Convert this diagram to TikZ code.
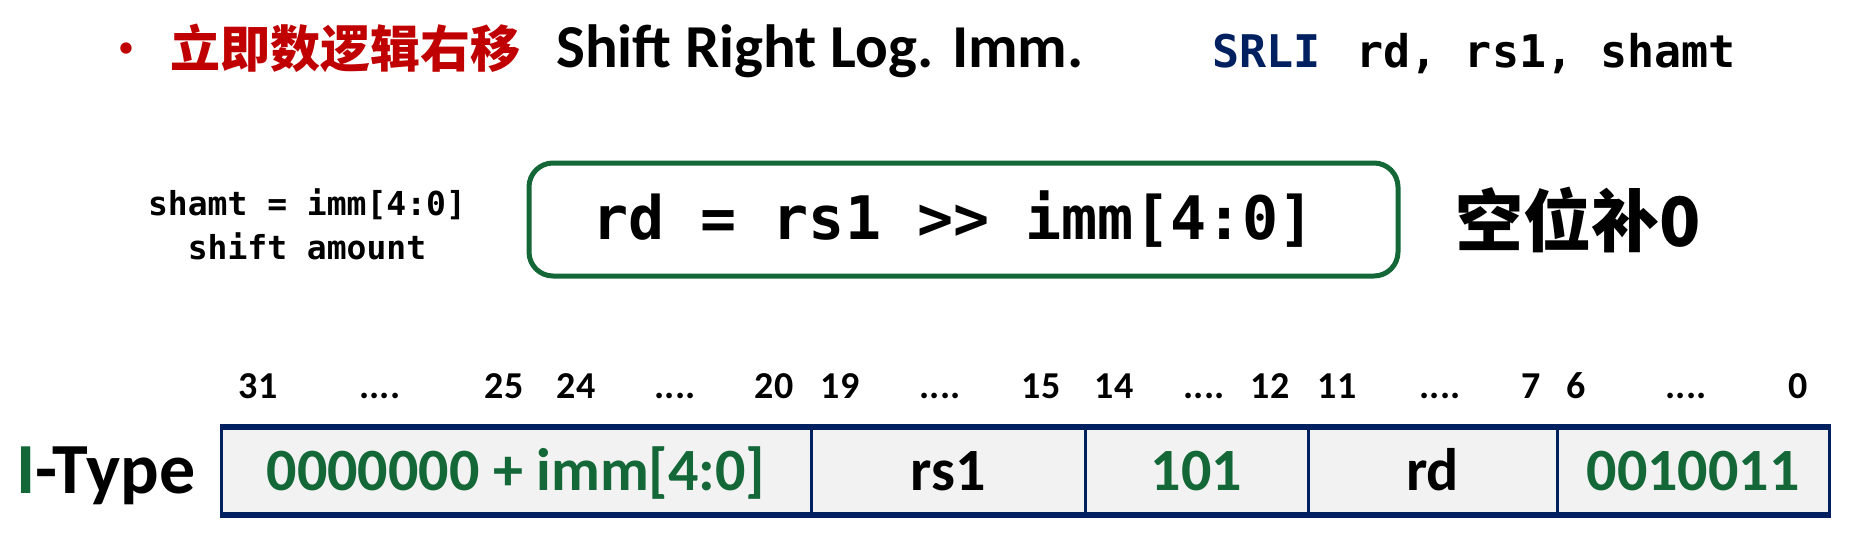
\documentclass[tikz,border=0pt]{standalone}
\usepackage{fontspec}
\setmainfont{Carlito}
\setmonofont{DejaVu Sans Mono}
\newfontfamily\cjk{Noto Sans CJK SC}
\usepackage{tikz}
\usetikzlibrary{positioning}
\definecolor{titlered}{RGB}{192,0,0}
\definecolor{navyblue}{RGB}{0,32,96}
\definecolor{codegreen}{RGB}{20,104,56}
\definecolor{cellgray}{RGB}{242,242,242}
\newcommand{\bitdots}{....}
\tikzstyle{hdr}=[%
      inner sep=0pt, anchor=base, font=\bfseries\fontsize{61}{68}\selectfont
]
\tikzstyle{asm}=[%
      inner sep=0pt, anchor=base, font=\ttfamily\bfseries\fontsize{45}{52}\selectfont
]
\tikzstyle{note}=[%
      inner sep=0pt, anchor=base, align=center, font=\ttfamily\bfseries\fontsize{33}{44}\selectfont
]
\tikzstyle{eqbox}=[%
      rectangle, rounded corners=24pt, draw=codegreen, line width=5pt, fill=white,
      minimum height=113pt, minimum width=869pt, inner sep=0pt,
      font=\ttfamily\bfseries\fontsize{60}{66}\selectfont
]
\tikzstyle{bitno}=[%
      inner sep=0pt, anchor=base, font=\bfseries\fontsize{38}{44}\selectfont
]
\tikzstyle{cell}=[%
      rectangle, draw=navyblue, line width=3pt, fill=cellgray, outer sep=0pt,
      minimum height=88pt, inner sep=0pt, text height=38pt, text depth=0pt,
      font=\bfseries\fontsize{60}{66}\selectfont
]

\begin{document}
\begin{tikzpicture}[x=1pt, y=-1pt]
    \useasboundingbox (0,0) rectangle (1851,535);

    % title line
    \node[inner sep=0pt, font=\fontsize{32}{36}\selectfont] (dot) at (126,50) {\textcolor{titlered}{•}};
    \node[hdr, text=titlered, font=\fontsize{50}{56}\selectfont] (zh) at (345,67) {\cjk\bfseries 立即数逻辑右移};
    \node[hdr] (en) at (820,67) {Shift Right Log. Imm.};
    \node[asm] (srli) at (1474,67) {\textcolor{navyblue}{SRLI}\hspace{36pt}rd, rs1, shamt};

    % semantics
    \node[note] (shamt) at (307,259) {shamt = imm[4:0]\\shift amount};
    \node[eqbox] (eq) at (963.5,219.5) {rd = rs1 >\kern0pt> imm[4:0]\hspace*{20pt}};
    \node[hdr, font=\fontsize{68}{74}\selectfont] (fill0) at (1578,246) {\cjk\bfseries 空位补0};

    % bit positions
    \foreach \x/\t [count=\i] in {258/31, 380/\bitdots, 504/25, 576/24, 675/\bitdots, 774/20,
                                  840/19, 940/\bitdots, 1041/15, 1114/14, 1204/\bitdots, 1270/12,
                                  1337/11, 1440/\bitdots, 1531/7, 1576/6, 1686/\bitdots, 1798/0}
      \node[bitno] (bit\i) at (\x,398) {\t};

    % I-type fields
    \node[inner sep=0pt, anchor=base, font=\bfseries\fontsize{72}{78}\selectfont] (itype) at (106,493)
      {\textcolor{codegreen}{I}-Type};
    \node[cell, minimum width=590pt] (immf) at (516,471) {\textcolor{codegreen}{0000000 + imm[4:0]}};
    \node[cell, minimum width=274pt] (rs1f) [right = 0pt of immf] {rs1};
    \node[cell, minimum width=223pt] (f3) [right = 0pt of rs1f] {\textcolor{codegreen}{101}};
    \node[cell, minimum width=249pt] (rdf) [right = 0pt of f3] {rd};
    \node[cell, minimum width=272pt] (opf) [right = 0pt of rdf] {\textcolor{codegreen}{0010011}};

    \draw[navyblue, line width=6pt, shorten <=-1.5pt, shorten >=-1.5pt] (immf.north west) -- (opf.north east);
    \draw[navyblue, line width=6pt, shorten <=-1.5pt, shorten >=-1.5pt] (immf.south west) -- (opf.south east);

  \end{tikzpicture}
\end{document}
